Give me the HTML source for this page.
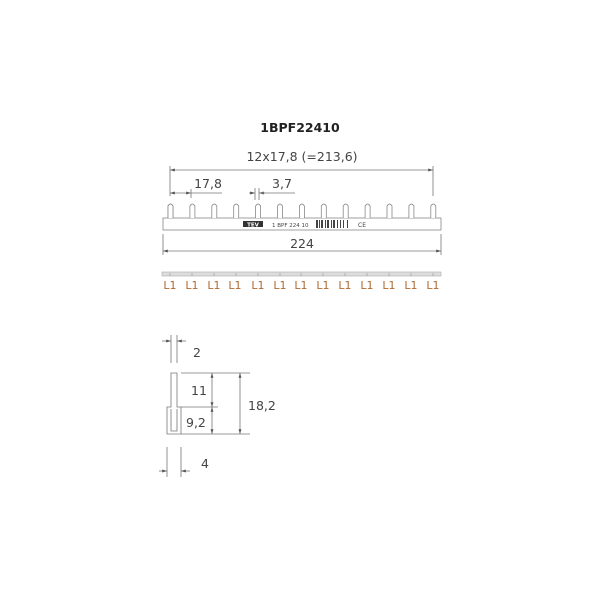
<!DOCTYPE html>
<html><head><style>
html,body{margin:0;padding:0;background:#fff;}
svg{display:block;}
text{font-family:"DejaVu Sans","Liberation Sans",sans-serif;fill:#444;}
</style></head><body>
<svg width="600" height="600" viewBox="0 0 600 600" xmlns="http://www.w3.org/2000/svg">
<defs>
<marker id="a" viewBox="0 0 10 10" refX="10" refY="5" markerWidth="6" markerHeight="6" orient="auto-start-reverse"><path d="M0,2 L10,5 L0,8 z" fill="#555"/></marker>
</defs>
<text x="300" y="132" font-size="12.5" font-weight="bold" text-anchor="middle" fill="#222" style="fill:#222">1BPF22410</text>
<text x="302" y="161" font-size="12.5" text-anchor="middle">12x17,8 (=213,6)</text>
<g stroke="#777" stroke-width="0.8" fill="none">
<line x1="170" y1="170" x2="433" y2="170" marker-start="url(#a)" marker-end="url(#a)"/>
<line x1="170" y1="166" x2="170" y2="196"/>
<line x1="433" y1="166" x2="433" y2="196"/>
<line x1="170" y1="193" x2="191" y2="193" marker-start="url(#a)" marker-end="url(#a)"/>
<line x1="191" y1="193" x2="222" y2="193"/>
<line x1="191" y1="189" x2="191" y2="198"/>
<line x1="249" y1="193" x2="255" y2="193" marker-end="url(#a)"/>
<line x1="265" y1="193" x2="259" y2="193" marker-end="url(#a)"/>
<line x1="259" y1="193" x2="295" y2="193"/>
<line x1="255" y1="188" x2="255" y2="200"/>
<line x1="259" y1="188" x2="259" y2="200"/>
<line x1="163" y1="234" x2="163" y2="255"/>
<line x1="441" y1="234" x2="441" y2="255"/>
<line x1="163" y1="251" x2="441" y2="251" marker-start="url(#a)" marker-end="url(#a)"/>
</g>
<text x="208" y="188" font-size="12.5" text-anchor="middle">17,8</text>
<text x="282" y="188" font-size="12.5" text-anchor="middle">3,7</text>
<text x="302" y="248" font-size="12.5" text-anchor="middle">224</text>
<g stroke="#888" stroke-width="0.8" fill="#fff">
<rect x="163" y="218" width="278" height="12"/>
<g id="pins">
<path d="M168,218 V206 Q170.5,202 173,206 V218"/>
</g>
</g>
<g stroke="#888" stroke-width="0.8" fill="#fff">
<path d="M168,218 V206 Q170.5,202 173,206 V218" transform="translate(0,0)"/>
<path d="M168,218 V206 Q170.5,202 173,206 V218" transform="translate(21.9,0)"/>
<path d="M168,218 V206 Q170.5,202 173,206 V218" transform="translate(43.8,0)"/>
<path d="M168,218 V206 Q170.5,202 173,206 V218" transform="translate(65.7,0)"/>
<path d="M168,218 V206 Q170.5,202 173,206 V218" transform="translate(87.6,0)"/>
<path d="M168,218 V206 Q170.5,202 173,206 V218" transform="translate(109.5,0)"/>
<path d="M168,218 V206 Q170.5,202 173,206 V218" transform="translate(131.4,0)"/>
<path d="M168,218 V206 Q170.5,202 173,206 V218" transform="translate(153.3,0)"/>
<path d="M168,218 V206 Q170.5,202 173,206 V218" transform="translate(175.2,0)"/>
<path d="M168,218 V206 Q170.5,202 173,206 V218" transform="translate(197.1,0)"/>
<path d="M168,218 V206 Q170.5,202 173,206 V218" transform="translate(219,0)"/>
<path d="M168,218 V206 Q170.5,202 173,206 V218" transform="translate(240.9,0)"/>
<path d="M168,218 V206 Q170.5,202 173,206 V218" transform="translate(262.8,0)"/>
</g>
<rect x="243" y="221" width="20" height="6" fill="#333"/>
<text x="253" y="226.5" font-size="5.5" font-weight="bold" text-anchor="middle" style="fill:#fff">TEV</text>
<text x="272" y="227" font-size="5.5">1 BPF 224 10</text>
<g fill="#444">
<rect x="316" y="220" width="2" height="8"/><rect x="319" y="220" width="1" height="8"/><rect x="321" y="220" width="2" height="8"/><rect x="325" y="220" width="1" height="8"/><rect x="327" y="220" width="2" height="8"/><rect x="331" y="220" width="1" height="8"/><rect x="333" y="220" width="2" height="8"/><rect x="337" y="220" width="1" height="8"/><rect x="340" y="220" width="1" height="8"/><rect x="343" y="220" width="1" height="8"/><rect x="347" y="220" width="1" height="8"/>
</g>
<text x="358" y="227" font-size="6">CE</text>
<rect x="162" y="272" width="279" height="4" fill="#ddd" stroke="#aaa" stroke-width="0.6"/>
<g font-size="11" text-anchor="middle" style="fill:#b06a30">
<text x="170" y="289" style="fill:#b06a30">L1</text><text x="192" y="289" style="fill:#b06a30">L1</text><text x="214" y="289" style="fill:#b06a30">L1</text><text x="235" y="289" style="fill:#b06a30">L1</text><text x="258" y="289" style="fill:#b06a30">L1</text><text x="280" y="289" style="fill:#b06a30">L1</text><text x="301" y="289" style="fill:#b06a30">L1</text><text x="323" y="289" style="fill:#b06a30">L1</text><text x="345" y="289" style="fill:#b06a30">L1</text><text x="367" y="289" style="fill:#b06a30">L1</text><text x="389" y="289" style="fill:#b06a30">L1</text><text x="411" y="289" style="fill:#b06a30">L1</text><text x="433" y="289" style="fill:#b06a30">L1</text>
</g>
<g stroke="#999" stroke-width="0.6">
<line x1="170" y1="273" x2="170" y2="276"/><line x1="192" y1="273" x2="192" y2="276"/><line x1="214" y1="273" x2="214" y2="276"/><line x1="236" y1="273" x2="236" y2="276"/><line x1="258" y1="273" x2="258" y2="276"/><line x1="280" y1="273" x2="280" y2="276"/><line x1="301" y1="273" x2="301" y2="276"/><line x1="323" y1="273" x2="323" y2="276"/><line x1="345" y1="273" x2="345" y2="276"/><line x1="367" y1="273" x2="367" y2="276"/><line x1="389" y1="273" x2="389" y2="276"/><line x1="411" y1="273" x2="411" y2="276"/><line x1="433" y1="273" x2="433" y2="276"/>
</g>
<g stroke="#777" stroke-width="0.8" fill="none">
<line x1="171" y1="335" x2="171" y2="363"/><line x1="177" y1="335" x2="177" y2="363"/>
<line x1="162" y1="341" x2="171" y2="341" marker-end="url(#a)"/>
<line x1="186" y1="341" x2="177" y2="341" marker-end="url(#a)"/>
<path d="M171,373 H177 V407 H181 V434 H167 V407 H171 Z"/>
<path d="M171,409 V431 H177 V409"/>
<line x1="181" y1="373" x2="250" y2="373"/>
<line x1="181" y1="434" x2="250" y2="434"/>
<line x1="181" y1="407" x2="218" y2="407"/>
<line x1="212" y1="373" x2="212" y2="407" marker-start="url(#a)" marker-end="url(#a)"/>
<line x1="212" y1="407" x2="212" y2="434" marker-start="url(#a)" marker-end="url(#a)"/>
<line x1="240" y1="373" x2="240" y2="434" marker-start="url(#a)" marker-end="url(#a)"/>
<line x1="167" y1="447" x2="167" y2="477"/><line x1="181" y1="447" x2="181" y2="477"/>
<line x1="159" y1="471" x2="167" y2="471" marker-end="url(#a)"/>
<line x1="190" y1="471" x2="181" y2="471" marker-end="url(#a)"/>
</g>
<text x="193" y="357" font-size="12.5">2</text>
<text x="191" y="395" font-size="12.5">11</text>
<text x="186" y="427" font-size="12.5">9,2</text>
<text x="248" y="410" font-size="12.5">18,2</text>
<text x="201" y="468" font-size="12.5">4</text>
</svg>
</body></html>
